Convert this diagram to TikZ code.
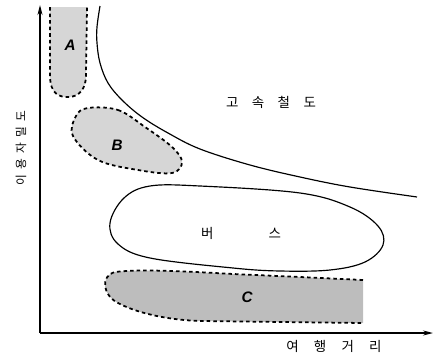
\documentclass[tikz,border=0pt]{standalone}
\usepackage{fontspec}
\usepackage{xcolor}
\usepackage{tikz}
\usetikzlibrary{arrows.meta}
\newfontfamily\kofont{Noto Sans CJK KR}
\newfontfamily\tagfont{Liberation Sans}
\definecolor{dotlight}{gray}{0.84}
\definecolor{dotdark}{gray}{0.74}

\begin{document}
\begin{tikzpicture}[x=0.3mm,y=-0.3mm,>={Stealth[length=3mm,width=1.5mm]},
  font=\kofont\fontsize{11.5}{13}\selectfont,
  zone/.style={dash pattern=on 3pt off 2.6pt,line width=1.5pt},
  bound/.style={line width=1pt},
  tag/.style={font=\tagfont\bfseries\itshape\fontsize{13}{15}\selectfont}]
  \useasboundingbox (0,0) rectangle (436,359);
  % shaded zones A, B, C (fill first, dashed edge on top)
  \fill[dotlight] (50,7) -- (50,75) .. controls (50,95) and (60,97) .. (68,97)
    .. controls (80,97) and (86,88) .. (86,75) -- (87,7) -- cycle;
  \draw[zone] (50,7) -- (50,75) .. controls (50,95) and (60,97) .. (68,97)
    .. controls (80,97) and (86,88) .. (86,75) -- (87,7);
  \filldraw[zone,fill=dotlight] plot[smooth cycle,tension=0.6] coordinates
    {(88,108) (118,110) (145,127) (172,147) (182,162) (172,173) (138,170)
     (98,160) (73,136) (76,116)};
  \fill[dotdark] (363,280) -- (300,277) -- (233,274) .. controls (180,271) and (140,269) .. (115,272)
    .. controls (100,276) and (102,296) .. (120,304) .. controls (140,314) and (170,320) .. (200,321)
    -- (363,323) -- cycle;
  \draw[zone] (363,280) -- (300,277) -- (233,274) .. controls (180,271) and (140,269) .. (115,272)
    .. controls (100,276) and (102,296) .. (120,304) .. controls (140,314) and (170,320) .. (200,321)
    -- (363,323);
  % high-speed rail boundary
  \draw[bound] plot[smooth,tension=0.6] coordinates
    {(100,6) (97,27) (97,43) (100,63) (108,83) (122,100) (142,117) (168,133) (200,149)
     (250,165) (300,177) (350,187) (417,197)};
  % bus zone
  \draw[bound] plot[smooth cycle,tension=0.6] coordinates
    {(150,186) (200,186) (300,193) (350,207) (378,226) (383,245) (365,262) (330,270)
     (280,271) (233,268) (150,258) (118,244) (110,223) (124,198)};
  % axes
  \coordinate (orig) at (40,333);
  \coordinate (ytip) at (40,5);
  \coordinate (xtip) at (433,333);
  \draw[->,line width=1.2pt] (orig) -- (ytip);
  \draw[->,line width=1.2pt] (orig) -- (xtip);
  % labels
  \node[tag] (tagA) at (70,45) {A};
  \node[tag] (tagB) at (117,145) {B};
  \node[tag] (tagC) at (247,297) {C};
  \node (rail) at (271,102) {고\hspace{11.5pt}속\hspace{11.5pt}철\hspace{11.5pt}도};
  \node (bus) at (241,233) {버\hspace{47pt}스};
  \node (xlab) at (334,346) {여\hspace{13pt}행\hspace{13pt}거\hspace{13pt}리};
  \node[rotate=90,font=\kofont\fontsize{10}{12}\selectfont] (ylab) at (21,148)
    {이\hspace{4.5pt}용\hspace{4.5pt}자\hspace{4.5pt}밀\hspace{4.5pt}도};
\end{tikzpicture}
\end{document}
